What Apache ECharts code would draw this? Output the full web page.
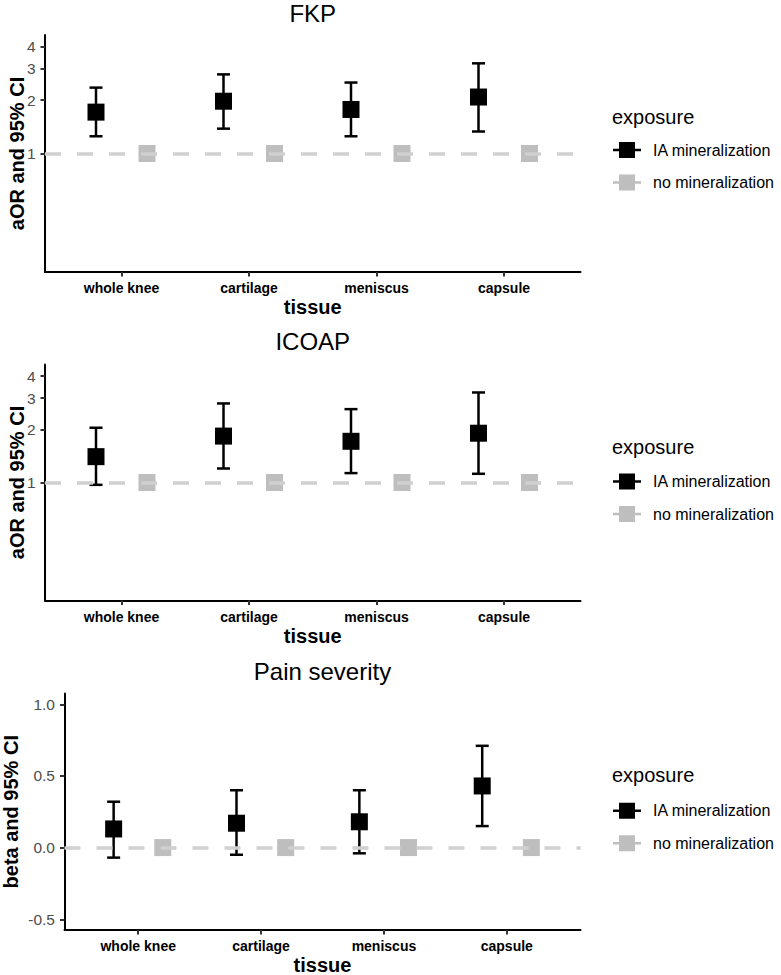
<!DOCTYPE html>
<html>
<head>
<meta charset="utf-8">
<script src="https://cdn.jsdelivr.net/npm/echarts@6/dist/echarts.min.js"></script>
<style>
  html, body { margin: 0; padding: 0; background: #fff; }
  #chart { width: 781px; height: 975px; }
</style>
</head>
<body>
<div id="chart"></div>
<script>
// ---- data ----
const categories = ['whole knee', 'cartilage', 'meniscus', 'capsule'];
const seriesNames = ['IA mineralization', 'no mineralization'];

const fkpEst  = [1.71, 1.97, 1.77, 2.08];
const fkpLow  = [1.25, 1.38, 1.25, 1.33];
const fkpHigh = [2.35, 2.79, 2.51, 3.22];

const icoapEst  = [1.40, 1.83, 1.71, 1.90];
const icoapLow  = [0.97, 1.20, 1.13, 1.12];
const icoapHigh = [2.04, 2.80, 2.60, 3.23];

const painEst  = [0.13, 0.17, 0.18, 0.43];
const painLow  = [-0.07, -0.05, -0.04, 0.15];
const painHigh = [0.32, 0.40, 0.40, 0.71];

const refOR   = [1, 1, 1, 1];
const refBeta = [0, 0, 0, 0];

const orTicks   = [1, 2, 3, 4];
const betaTicks = [-0.5, 0.0, 0.5, 1.0];

const panelTitles = ['FKP', 'ICOAP', 'Pain severity'];
const yTitles = ['aOR and 95% CI', 'aOR and 95% CI', 'beta and 95% CI'];

// ---- layout / style ----
const FONT = "'Liberation Sans', Arial, sans-serif";
const DODGE = 0.2;
const panels = [
  { est: fkpEst, low: fkpLow, high: fkpHigh, ref: refOR, log: true, ticks: orTicks,
    range: [0.215, 4.65],
    grid: { left: 45, top: 35, width: 535.5, height: 237 }, nameGap: 18.5,
    titleY: 13, legTitleY: 116.6, legTop: 142 },
  { est: icoapEst, low: icoapLow, high: icoapHigh, ref: refOR, log: true, ticks: orTicks,
    range: [0.215, 4.65],
    grid: { left: 45, top: 364.5, width: 535.5, height: 236 }, nameGap: 18.5,
    titleY: 341.5, legTitleY: 446.5, legTop: 473.5 },
  { est: painEst, low: painLow, high: painHigh, ref: refBeta, log: false, ticks: betaTicks,
    range: [-0.575, 1.075],
    grid: { left: 64.5, top: 693.5, width: 516, height: 236.5 }, nameGap: 44,
    titleY: 671.5, legTitleY: 775, legTop: 802.7 }
];

const tf = (p, v) => p.log ? Math.log10(v) : v;

const keyPath = 'path://M0,6.8 L28,6.8 L28,9.2 L0,9.2 Z M6,0 L22,0 L22,16 L6,16 Z';

function errRender(params, api) {
  const x = api.value(0), lo = api.value(1), hi = api.value(2);
  const a = api.coord([x, lo]), b = api.coord([x, hi]);
  const hw = 6.5;
  const style = { stroke: '#000', lineWidth: 2.5, fill: null };
  return {
    type: 'group',
    children: [
      { type: 'line', shape: { x1: a[0], y1: a[1], x2: b[0], y2: b[1] }, style },
      { type: 'line', shape: { x1: a[0] - hw, y1: a[1], x2: a[0] + hw, y2: a[1] }, style },
      { type: 'line', shape: { x1: b[0] - hw, y1: b[1], x2: b[0] + hw, y2: b[1] }, style }
    ]
  };
}

const grid = [], xAxis = [], yAxis = [], series = [], legend = [], graphic = [];

panels.forEach((p, k) => {
  grid.push(Object.assign({ containLabel: false, outerBoundsMode: 'none' }, p.grid));
  const centerX = p.grid.left + p.grid.width / 2;
  xAxis.push({
    type: 'value', gridIndex: k, min: 0.4, max: 4.6,
    name: 'tissue', nameLocation: 'middle', nameGap: 25, nameMoveOverlap: false,
    nameTextStyle: { fontFamily: FONT, fontSize: 20, fontWeight: 'bold', color: '#000' },
    axisLine: { show: true, onZero: false, lineStyle: { color: '#000', width: 2 } },
    axisTick: { show: true, length: 4.5, customValues: [1, 2, 3, 4], lineStyle: { color: '#333', width: 2 } },
    axisLabel: {
      customValues: [1, 2, 3, 4], margin: 9,
      fontFamily: FONT, fontSize: 14, fontWeight: 'bold', color: '#000',
      formatter: v => categories[Math.round(v) - 1]
    },
    splitLine: { show: false }
  });
  yAxis.push({
    type: 'value', gridIndex: k,
    min: tf(p, p.range[0]), max: tf(p, p.range[1]),
    name: yTitles[k], nameLocation: 'middle', nameGap: p.nameGap, nameMoveOverlap: false,
    nameTextStyle: { fontFamily: FONT, fontSize: 20, fontWeight: 'bold', color: '#000' },
    axisLine: { show: true, onZero: false, lineStyle: { color: '#000', width: 2 } },
    axisTick: { show: true, length: 4.5, customValues: p.ticks.map(v => tf(p, v)), lineStyle: { color: '#333', width: 2 } },
    axisLabel: {
      customValues: p.ticks.map(v => tf(p, v)), margin: 9.5,
      fontFamily: FONT, fontSize: 15.5, color: '#4d4d4d',
      formatter: v => p.log ? String(Math.round(Math.pow(10, v))) : v.toFixed(1)
    },
    splitLine: { show: false }
  });

  series.push({
    type: 'custom', name: 'ci-' + k, xAxisIndex: k, yAxisIndex: k,
    renderItem: errRender, z: 2, silent: true,
    encode: { x: 0, y: [1, 2] },
    data: categories.map((c, i) => [i + 1 - DODGE, tf(p, p.low[i]), tf(p, p.high[i])])
  });
  series.push({
    type: 'scatter', name: seriesNames[0], xAxisIndex: k, yAxisIndex: k,
    symbol: 'rect', symbolSize: 17, z: 3,
    itemStyle: { color: '#000', opacity: 1 },
    data: categories.map((c, i) => [i + 1 - DODGE, tf(p, p.est[i])])
  });
  series.push({
    type: 'scatter', name: seriesNames[1], xAxisIndex: k, yAxisIndex: k,
    symbol: 'rect', symbolSize: 17, z: 3,
    itemStyle: { color: '#bebebe', opacity: 1 },
    data: categories.map((c, i) => [i + 1 + DODGE, tf(p, p.ref[i])]),
    markLine: {
      silent: true, symbol: ['none', 'none'], animation: false,
      label: { show: false },
      lineStyle: { type: [16, 16], color: '#d0d0d0', width: 3.5 },
      emphasis: { disabled: true },
      data: [{ yAxis: tf(p, p.ref[0]) }]
    }
  });

  legend.push({
    orient: 'vertical', left: 613, top: p.legTop, padding: 0,
    itemWidth: 28, itemHeight: 16, itemGap: 16.5,
    selectedMode: false,
    textStyle: { fontFamily: FONT, fontSize: 16, color: '#000', padding: [0, 0, 0, 7] },
    data: seriesNames.map(n => ({ name: n, icon: keyPath }))
  });

  graphic.push({
    type: 'text', x: centerX, y: p.titleY, silent: true,
    style: { text: panelTitles[k], font: '24px ' + FONT, fill: '#000', align: 'center', verticalAlign: 'middle' }
  });
  graphic.push({
    type: 'text', x: 612, y: p.legTitleY, silent: true,
    style: { text: 'exposure', font: '20px ' + FONT, fill: '#000', align: 'left', verticalAlign: 'middle' }
  });
});

const chart = echarts.init(document.getElementById('chart'), null, { renderer: 'svg', width: 781, height: 975 });
chart.setOption({
  animation: false,
  backgroundColor: '#ffffff',
  grid, xAxis, yAxis, series, legend, graphic
});
</script>
</body>
</html>
